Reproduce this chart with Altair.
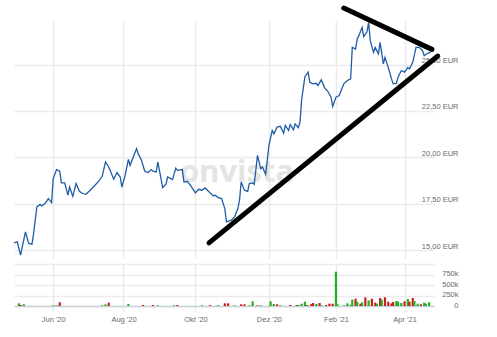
import altair as alt
import pandas as pd

# trading-day index (0 = first day shown) and closing price in EUR
day = [0, 2, 4, 7, 9, 11, 12, 14, 16, 17, 19, 21, 23, 24, 26, 28, 29, 31, 33, 34,
       36, 38, 40, 42, 44, 46, 49, 52, 54, 56, 58, 61, 63, 65, 66, 68, 70, 71, 73, 75,
       76, 78, 80, 82, 84, 85, 87, 88, 91, 93, 94, 96, 97, 99, 100, 103, 104, 106, 108, 111,
       113, 115, 117, 119, 122, 123, 125, 127, 129, 130, 133, 135, 137, 138, 139, 141, 143, 144, 146, 147,
       149, 151, 152, 154, 156, 158, 159, 161, 163, 165, 166, 168, 169, 171, 172, 174, 175, 176, 178, 180,
       181, 183, 185, 186, 188, 190, 192, 194, 195, 197, 199, 200, 202, 204, 206, 207, 209, 210, 211, 213,
       214, 216, 217, 218, 220, 221, 223, 224, 226, 227, 229, 231, 232, 234, 235, 237, 239, 241, 242, 244,
       246, 248, 250, 251, 253, 255]
price = [15.39, 15.45, 14.73, 15.98, 15.36, 15.32, 15.90, 17.33, 17.46, 17.38, 17.51, 17.78, 17.56, 18.85, 19.34, 19.25, 18.62, 18.62, 17.96, 18.40,
         17.90, 18.59, 18.17, 18.05, 18.01, 18.17, 18.44, 18.73, 18.99, 19.75, 19.48, 18.82, 19.18, 18.94, 18.40, 19.03, 19.89, 19.57, 20.02, 20.47,
         20.20, 19.84, 19.25, 19.18, 19.34, 19.25, 19.21, 19.75, 18.37, 18.55, 18.94, 18.85, 18.80, 19.42, 19.30, 19.34, 18.67, 18.71, 18.49, 18.08,
         18.28, 18.23, 18.35, 18.17, 17.92, 17.96, 17.83, 17.78, 17.24, 16.52, 16.61, 16.79, 17.24, 17.69, 18.67, 18.23, 18.17, 18.59, 18.62, 18.55,
         20.11, 19.39, 19.48, 19.09, 20.65, 21.45, 21.27, 21.63, 21.67, 21.31, 21.72, 21.45, 21.77, 21.49, 21.81, 21.60, 21.90, 23.10, 24.35, 24.59,
         24.05, 23.96, 23.99, 23.87, 24.18, 23.76, 23.56, 23.24, 22.74, 23.24, 23.33, 23.56, 23.99, 24.14, 24.23, 25.93, 25.84, 26.38, 26.56, 27.01,
         26.51, 26.77, 27.27, 26.29, 25.66, 25.93, 25.58, 26.20, 25.04, 25.39, 24.85, 24.23, 23.96, 23.99, 24.32, 24.68, 24.59, 24.85, 24.77, 25.12,
         25.93, 25.93, 25.75, 25.48, 25.61, 25.66]

# volume (thousands of shares) and whether the day closed up or down
vol_day = [3, 4, 6, 24, 26, 28, 54, 56, 58, 70, 79, 85, 88, 98, 100, 115, 120, 125, 129, 131,
           135, 139, 141, 144, 146, 149, 151, 157, 159, 161, 163, 169, 173, 174, 176, 178, 179, 180, 182, 183,
           185, 187, 188, 191, 193, 195, 197, 198, 202, 204, 206, 207, 209, 210, 212, 213, 215, 217, 219, 221,
           222, 224, 225, 227, 229, 231, 232, 234, 235, 237, 239, 241, 242, 244, 245, 247, 249, 251, 252, 254]
vol_k = [64, 24, 40, 16, 16, 88, 16, 40, 80, 48, 24, 24, 16, 16, 24, 16, 20, 20, 64, 64,
         16, 40, 40, 16, 111, 16, 16, 111, 48, 40, 16, 24, 24, 24, 55, 103, 24, 16, 48, 71,
         48, 71, 16, 24, 55, 55, 817, 40, 16, 63, 30, 150, 174, 103, 55, 87, 206, 135, 174, 79,
         55, 190, 150, 206, 103, 63, 95, 119, 103, 71, 111, 166, 103, 190, 119, 55, 40, 79, 55, 87]
vol_dir = ["up", "down", "up", "up", "up", "down", "up", "up", "down", "up", "down", "down", "up", "up", "down", "up", "down", "up", "down", "down",
           "up", "down", "down", "up", "up", "down", "up", "up", "up", "down", "up", "down", "down", "up", "up", "up", "down", "up", "down", "down",
           "up", "down", "up", "down", "down", "down", "up", "up", "up", "up", "up", "up", "down", "up", "down", "up", "down", "up", "down", "down",
           "up", "down", "up", "down", "down", "down", "down", "up", "up", "up", "down", "up", "down", "down", "up", "up", "down", "up", "up", "up"]

tick_days = [24, 67, 111, 156, 197, 239]
tick_labels = ["Jun '20", "Aug '20", "Okt '20", "Dez '20", "Feb '21", "Apr '21"]
price_ticks = [15, 17.5, 20, 22.5, 25]
vol_ticks = [0, 250000, 500000, 750000, 1000000]

# hand-drawn triangle trend lines (start/end in day index and EUR)
trend_start_day = [119.3, 201.8]
trend_start_price = [15.39, 28.05]
trend_end_day = [259.3, 255.7]
trend_end_price = [25.46, 25.82]

price_df = pd.DataFrame({"day": day, "price": price})
vol_df = pd.DataFrame({"day": vol_day, "volume": [v * 1000 for v in vol_k], "dir": vol_dir})
trend_df = pd.DataFrame({"d1": trend_start_day, "p1": trend_start_price,
                         "d2": trend_end_day, "p2": trend_end_price})
mark_df = pd.DataFrame({"t": ["onvista"]})

X_DOMAIN = [0, 257]
GRID = "#ebebeb"
LABEL = "#666a73"
FONT = "Liberation Sans"

names = "[" + ",".join('"%s"' % s for s in tick_labels) + "]"
vals = "[" + ",".join(str(v) for v in tick_days) + "]"
x_label_expr = f"{names}[indexof({vals}, datum.value)]"

x_scale = alt.Scale(domain=X_DOMAIN, zero=False, nice=False, padding=0)

watermark = alt.Chart(mark_df).mark_text(
    fontSize=31, fontWeight="bold", color="#e4e4e4", font="Open Sans",
    align="center", baseline="alphabetic"
).encode(text="t:N", x=alt.value(223), y=alt.value(161))

line = alt.Chart(price_df).mark_line(color="#1f5ca6", strokeWidth=1.3).encode(
    x=alt.X("day:Q", scale=x_scale,
            axis=alt.Axis(values=tick_days, grid=True, gridColor=GRID, gridWidth=1.5,
                          labels=False, ticks=False, domain=False, title=None)),
    y=alt.Y("price:Q", scale=alt.Scale(domain=[14.52, 27.35], zero=False, nice=False),
            axis=alt.Axis(orient="right", values=price_ticks, grid=True, gridColor=GRID,
                          gridWidth=1.5, ticks=False, domain=False, title=None,
                          labelAlign="right", labelPadding=24, labelOffset=-4,
                          labelFontSize=7.5, labelColor=LABEL, labelFont=FONT,
                          labelExpr="replace(format(datum.value, '.2f'), '.', ',') + ' EUR'")),
)

trend = alt.Chart(trend_df).mark_rule(color="black", strokeWidth=5, strokeCap="round",
                                      clip=False).encode(
    x=alt.X("d1:Q", scale=x_scale),
    y=alt.Y("p1:Q"),
    x2="d2:Q",
    y2="p2:Q",
)

price_chart = alt.layer(watermark, line, trend).properties(width=420, height=238)

volume_chart = alt.Chart(vol_df).mark_bar(size=2.2).encode(
    x=alt.X("day:Q", scale=x_scale,
            axis=alt.Axis(values=tick_days, grid=True, gridColor=GRID, gridWidth=1.5,
                          ticks=True, tickColor=GRID, tickWidth=1.5, tickSize=6,
                          domain=True, domainColor="#c9d1dc", domainWidth=1.5,
                          labelPadding=3, labelFontSize=7.5, labelColor=LABEL, labelFont=FONT,
                          labelExpr=x_label_expr, title=None)),
    y=alt.Y("volume:Q", scale=alt.Scale(domain=[0, 1000000], nice=False),
            axis=alt.Axis(orient="right", values=vol_ticks, grid=True, gridColor=GRID,
                          gridWidth=1.5, ticks=False, domain=False, title=None,
                          labelAlign="right", labelPadding=24, labelOffset=-1,
                          labelFontSize=7.5, labelColor=LABEL, labelFont=FONT,
                          labelExpr="datum.value >= 1000000 ? '' : (datum.value == 0 ? '0' : (datum.value / 1000) + 'k')")),
    color=alt.Color("dir:N", scale=alt.Scale(domain=["up", "down"], range=["#20b020", "#c81e1e"]),
                    legend=None),
).properties(width=420, height=42)

chart = alt.vconcat(price_chart, volume_chart, spacing=5).properties(
    padding={"left": 11, "top": 5, "right": 5, "bottom": 5},
    background="white"
).configure_view(stroke=None)

chart.save("out.html", embed_options={"renderer": "svg", "actions": False})
